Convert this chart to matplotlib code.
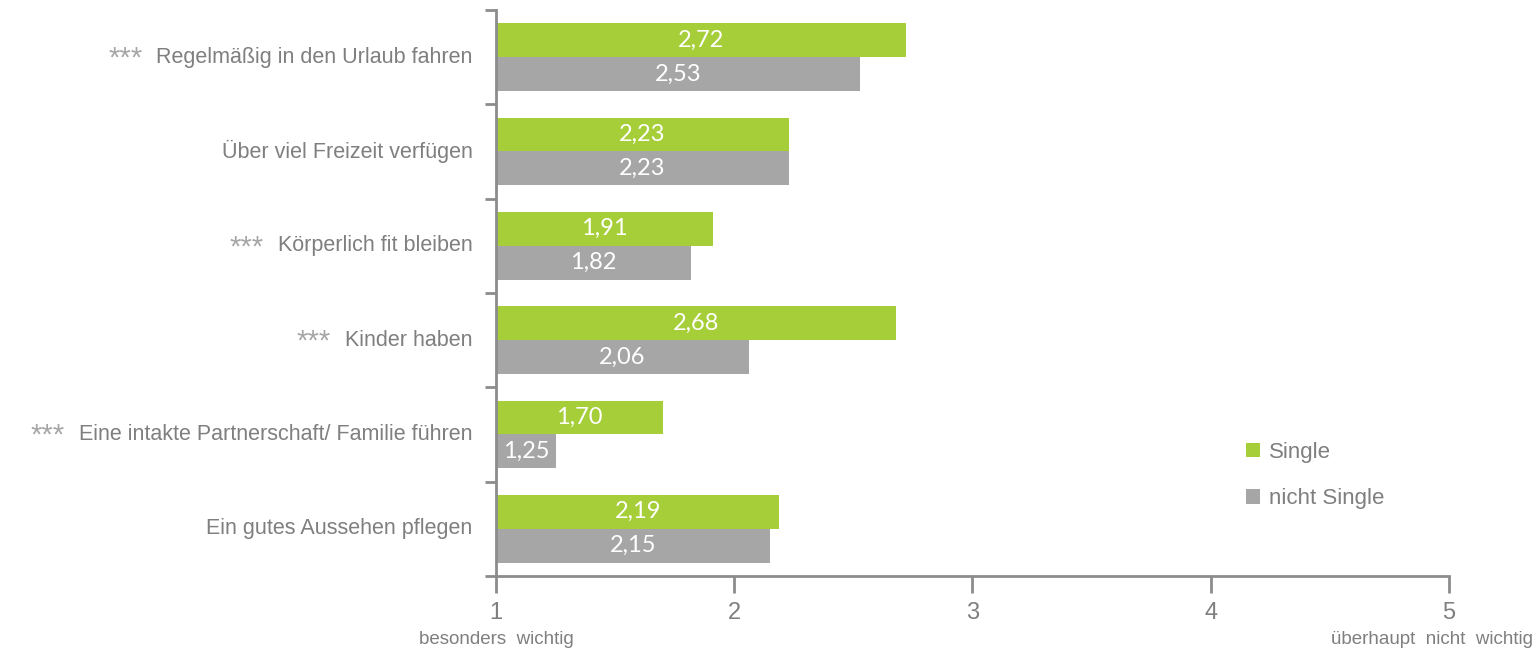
import matplotlib
matplotlib.use("Agg")
import matplotlib.pyplot as plt
from matplotlib.patches import Patch

categories = [
    "Regelmäßig in den Urlaub fahren",
    "Über viel Freizeit verfügen",
    "Körperlich fit bleiben",
    "Kinder haben",
    "Eine intakte Partnerschaft/ Familie führen",
    "Ein gutes Aussehen pflegen",
]
significant = [True, False, True, True, True, False]
single = [2.72, 2.23, 1.91, 2.68, 1.70, 2.19]
not_single = [2.53, 2.23, 1.82, 2.06, 1.25, 2.15]
series_names = ["Single", "nicht Single"]
x_ticks = [1, 2, 3, 4, 5]
x_low_label = "besonders  wichtig"
x_high_label = "überhaupt  nicht  wichtig"

GREEN = "#A6CE39"
GREY = "#A6A6A6"
AXIS = "#8C8C8C"
TEXT = "#7F7F7F"
STAR = "#A6A6A6"
SANS = ["Liberation Sans", "DejaVu Sans"]

fig = plt.figure(figsize=(15.37, 6.56), dpi=100)
ax = fig.add_axes([0.3227, 0.122, 0.62, 0.8628])

bar_h = 0.36
base = x_ticks[0]
for i, (s, n) in enumerate(zip(single, not_single)):
    ax.barh(i - bar_h / 2, s - base, left=base, height=bar_h, color=GREEN, linewidth=0)
    ax.barh(i + bar_h / 2, n - base, left=base, height=bar_h, color=GREY, linewidth=0)
    for val, yy in ((s, i - bar_h / 2), (n, i + bar_h / 2)):
        ax.text((base + val) / 2, yy, f"{val:.2f}".replace(".", ","),
                ha="center", va="center", color="white", fontsize=17,
                family=["Lato", "DejaVu Sans"])

ax.set_xlim(1, 5)
ax.set_ylim(len(categories) - 0.5, -0.5)

# Axes styling
for side in ("top", "right"):
    ax.spines[side].set_visible(False)
for side in ("left", "bottom"):
    ax.spines[side].set_color(AXIS)
    ax.spines[side].set_linewidth(2)

ax.set_yticks([k - 0.5 for k in range(len(categories) + 1)])
ax.set_yticklabels([])
ax.tick_params(axis="y", length=8, width=2, color=AXIS, direction="out")

ax.set_xticks(x_ticks)
ax.set_xticklabels([str(t) for t in x_ticks], family=SANS, fontsize=17, color=TEXT)
ax.tick_params(axis="x", length=12, width=2, color=AXIS, direction="out", pad=7)

# Category labels with significance markers
for i, (cat, sig) in enumerate(zip(categories, significant)):
    lab = ax.annotate(cat, xy=(0, i), xycoords=("axes fraction", "data"),
                      xytext=(-17, 0), textcoords="offset points",
                      ha="right", va="center", color=TEXT, fontsize=15.5, family=SANS)
    if sig:
        ax.annotate("***", xy=(0, 0.5), xycoords=lab, xytext=(-10, -1),
                    textcoords="offset points", ha="right", va="center",
                    color=STAR, fontsize=21, family=SANS)

# Scale end descriptions below the axis
ax.annotate(x_low_label, xy=(1, 0), xycoords=("data", "axes fraction"),
            xytext=(0, -46), textcoords="offset points", ha="center", va="center",
            color=TEXT, fontsize=13.5, family=SANS)
ax.annotate(x_high_label, xy=(5, 0), xycoords=("data", "axes fraction"),
            xytext=(-12, -46), textcoords="offset points", ha="center", va="center",
            color=TEXT, fontsize=13.5, family=SANS)

handles = [Patch(facecolor=GREEN, edgecolor="none"), Patch(facecolor=GREY, edgecolor="none")]
leg = fig.legend(handles, series_names, loc="upper left", bbox_to_anchor=(0.7975, 0.357),
                 frameon=False, handlelength=0.65, handleheight=0.65, handletextpad=0.4,
                 labelspacing=1.15, prop={"family": SANS, "size": 16})
for t in leg.get_texts():
    t.set_color(TEXT)

fig.savefig("out.png", dpi=100, facecolor="white")
